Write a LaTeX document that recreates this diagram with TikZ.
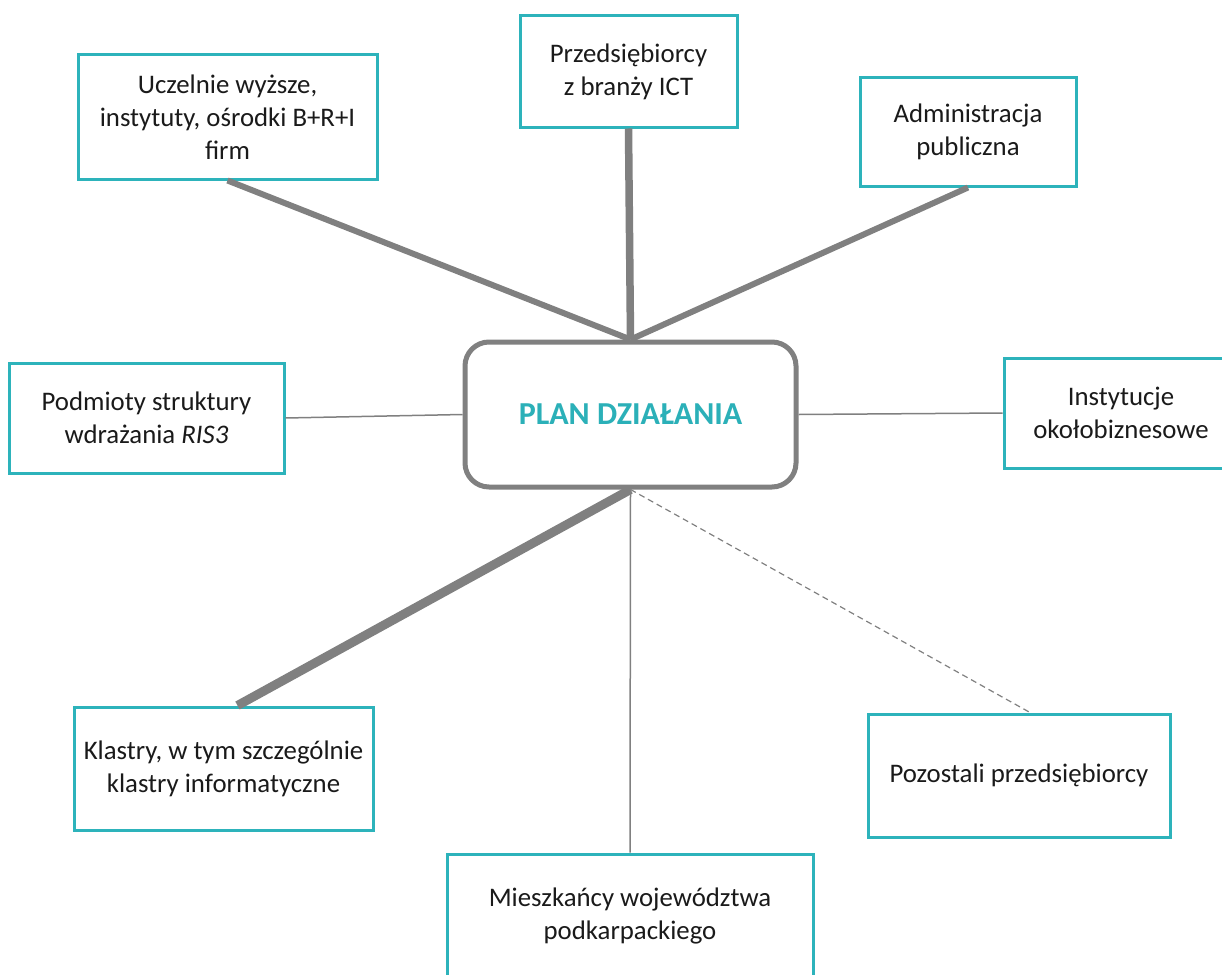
\documentclass[tikz,border=0pt]{standalone}
\usepackage{fontspec}
\setmainfont{Carlito}
\definecolor{teal1}{HTML}{2DB3BB}
\definecolor{tealtxt}{HTML}{2BB0B8}
\definecolor{line1}{HTML}{808080}
\definecolor{txt}{HTML}{1A1A1A}
\begin{document}
\begin{tikzpicture}[x=1pt,y=-1pt,
  box/.style={draw=teal1,line width=3pt,fill=white,align=center,text=txt,
    font=\fontsize{26.8}{33}\selectfont,inner sep=0pt},
  hub/.style={draw=line1,line width=5pt,rounded corners=24pt,fill=white,align=center,
    text=tealtxt,font=\fontsize{32}{38}\selectfont\bfseries,
    minimum width=331pt,minimum height=145pt},
  thinl/.style={draw=line1,line width=1.5pt},
  thickl/.style={draw=line1,line width=6pt},
  dashl/.style={draw=line1,line width=1.2pt,dash pattern=on 6pt off 4pt}]
\useasboundingbox (0,0) rectangle (1222,974);
\node[box,minimum width=299pt,minimum height=124pt] (ucz) at (227.5,117) {Uczelnie wyższe,\\instytuty, ośrodki B+R+I\\firm};
\node[box,minimum width=217pt,minimum height=111pt] (prz) at (628.5,71.5) {Przedsiębiorcy\\z branży ICT};
\node[box,minimum width=216pt,minimum height=109pt] (adm) at (968,131.5) {Administracja\\publiczna};
\node[box,minimum width=275pt,minimum height=110pt] (pod) at (146.5,418) {Podmioty struktury\\wdrażania \textit{RIS3}};
\node[hub] (plan) at (630.5,414.5) {PLAN DZIAŁANIA};
\node[box,minimum width=234pt,minimum height=110pt] (ins) at (1121,413) {Instytucje\\okołobiznesowe};
\node[box,minimum width=299pt,minimum height=123pt] (kla) at (223.5,768.5) {Klastry, w tym szczególnie\\klastry informatyczne};
\node[box,minimum width=302pt,minimum height=123pt] (poz) at (1019,775.5) {Pozostali przedsiębiorcy};
\node[box,minimum width=366pt,minimum height=123pt] (mie) at (630,915.5) {Mieszkańcy województwa\\podkarpackiego};
\draw[thickl] (ucz.south) -- (plan.north);
\draw[thickl,line width=7.5pt] (prz.south) -- (plan.north);
\draw[thickl] (adm.south) -- (plan.north);
\draw[thinl] (pod.east) -- (plan.west);
\draw[thinl] (plan.east) -- (ins.west);
\draw[thickl,line width=9pt] (plan.south) -- ([xshift=14pt]kla.north);
\draw[thinl] (plan.south) -- (mie.north);
\draw[dashl] (plan.south) -- ([xshift=11pt]poz.north);
\end{tikzpicture}
\end{document}
